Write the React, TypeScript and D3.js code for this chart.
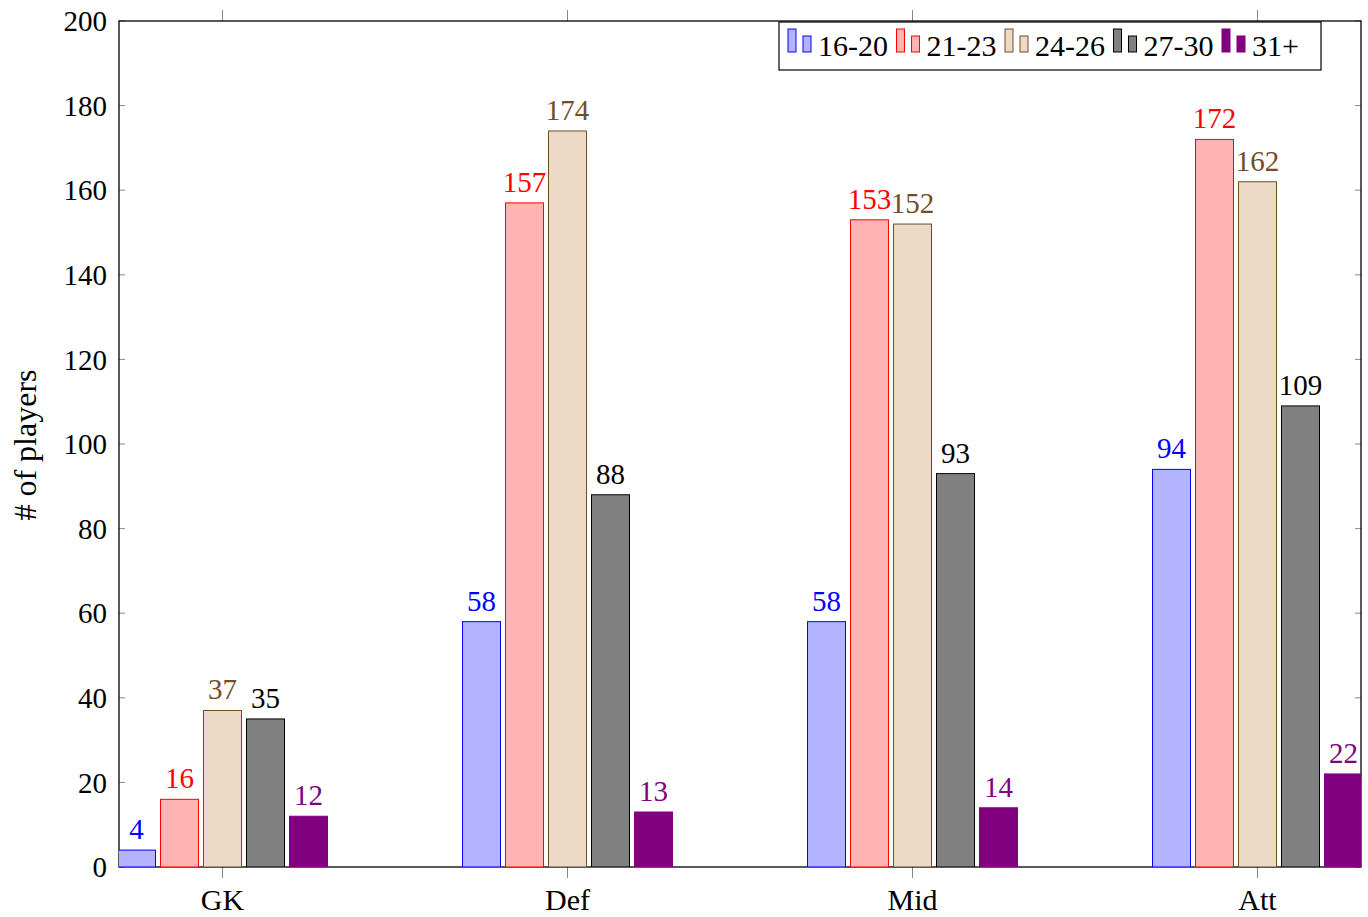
import React from "react";
import * as d3 from "d3";

const categories = ["GK", "Def", "Mid", "Att"];
const seriesNames = ["16-20", "21-23", "24-26", "27-30", "31+"];
const s1620 = [4, 58, 58, 94];
const s2123 = [16, 157, 153, 172];
const s2426 = [37, 174, 152, 162];
const s2730 = [35, 88, 93, 109];
const s31 = [12, 13, 14, 22];
const seriesValues = [s1620, s2123, s2426, s2730, s31];
const yTicks = [0, 20, 40, 60, 80, 100, 120, 140, 160, 180, 200];

const fills = ["#b3b3ff", "#ffb3b3", "#ecd9c6", "#808080", "#800080"];
const strokes = ["#0000ff", "#ff0000", "#734d26", "#000000", "#800080"];
const labelColors = ["#0000ff", "#ff0000", "#734d26", "#000000", "#800080"];

const W = 1368, H = 917;
const L = 119, R = 1361, T = 21, B = 867;
const FONT = "'Liberation Serif', 'DejaVu Serif', serif";
const FS = 29;

export default function App() {
  const x = d3.scalePoint<string>().domain(categories).range([L, R]).padding(0.3);
  const xs = d3.scaleBand<string>().domain(seriesNames).range([-107.5, 107.5]).paddingInner(5 / 43).paddingOuter(5 / 86);
  const y = d3.scaleLinear().domain([0, 200]).range([B, T]);
  const bw = xs.bandwidth();

  return (
    <svg width={W} height={H} style={{ position: "absolute", left: 0, top: 0, background: "#fff" }} fontFamily={FONT}>
      <defs>
        <clipPath id="plotclip">
          <rect x={L} y={T - 60} width={R - L} height={B - T + 60} />
        </clipPath>
      </defs>
      {yTicks.map((t) => (
        <g key={"yt" + t}>
          <line x1={L} x2={L + 6} y1={y(t)} y2={y(t)} stroke="#888" strokeWidth={1} />
          <line x1={R - 6} x2={R} y1={y(t)} y2={y(t)} stroke="#888" strokeWidth={1} />
          <text x={107} y={y(t)} dy="0.35em" textAnchor="end" fontSize={FS} fill="#000">{t}</text>
        </g>
      ))}
      {categories.map((c) => (
        <g key={"xt" + c}>
          <line x1={x(c)!} x2={x(c)!} y1={B} y2={B + 11} stroke="#888" strokeWidth={1} />
          <line x1={x(c)!} x2={x(c)!} y1={T} y2={T - 11} stroke="#888" strokeWidth={1} />
          <text x={x(c)!} y={910} textAnchor="middle" fontSize={FS + 1} fill="#000">{c}</text>
        </g>
      ))}
      <rect x={L} y={T} width={R - L} height={B - T} fill="none" stroke="#000" strokeWidth={1.3} />
      <g clipPath="url(#plotclip)">
        {seriesValues.map((vals, si) =>
          vals.map((v, ci) => {
            const cx = x(categories[ci])! + xs(seriesNames[si])! + bw / 2;
            return (
              <rect key={`b${si}-${ci}`} x={cx - bw / 2} y={y(v)} width={bw} height={y(0) - y(v)} fill={fills[si]} stroke={strokes[si]} strokeWidth={1} />
            );
          })
        )}
      </g>
      {seriesValues.map((vals, si) =>
        vals.map((v, ci) => {
          const cx = x(categories[ci])! + xs(seriesNames[si])! + bw / 2;
          return (
            <text key={`l${si}-${ci}`} x={cx} y={y(v) - 11} textAnchor="middle" fontSize={FS} fill={labelColors[si]}>{v}</text>
          );
        })
      )}
      <text transform={`translate(36,445) rotate(-90)`} textAnchor="middle" fontSize={32} fill="#000"># of players</text>
      <rect x={779} y={22} width={542} height={48} fill="#fff" stroke="#000" strokeWidth={1.2} />
      {seriesNames.map((s, i) => {
        const x0 = 788 + i * 108.5;
        return (
          <g key={"lg" + s}>
            <rect x={x0} y={29} width={8} height={23} fill={fills[i]} stroke={strokes[i]} strokeWidth={1} />
            <rect x={x0 + 15} y={36} width={8} height={16} fill={fills[i]} stroke={strokes[i]} strokeWidth={1} />
            <text x={x0 + 30} y={56} fontSize={FS + 1} fill="#000">{s}</text>
          </g>
        );
      })}
    </svg>
  );
}
